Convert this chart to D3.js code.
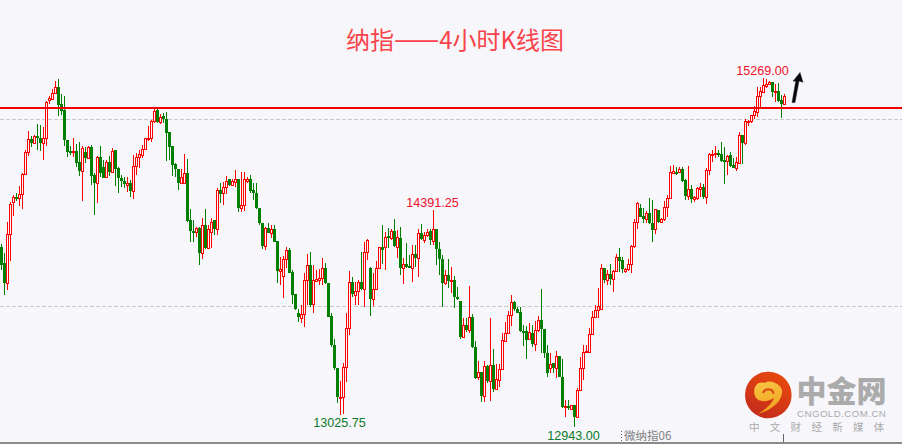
<!DOCTYPE html>
<html><head><meta charset="utf-8">
<style>html,body{margin:0;padding:0;background:#f6f6fb;overflow:hidden}svg{display:block}</style>
<script src="https://cdnjs.cloudflare.com/ajax/libs/d3/7.8.5/d3.min.js"></script>
</head><body><div id="c"></div>
<script>
const titleParts = ["纳指","——","4小时K线图"];
const contract = "微纳指06";
const opens = [14142,14036,13902,14229,14443,14476,14469,14496,14629,14776,14863,14836,14883,14869,14836,14869,15122,15129,15169,15209,15096,15056,14856,14783,14776,14783,14709,14649,14776,14736,14809,14623,14569,14743,14676,14609,14709,14643,14789,14669,14603,14583,14556,14569,14516,14683,14743,14756,14796,14863,14869,14983,15056,14976,15016,14996,14909,14816,14696,14663,14569,14569,14636,14323,14249,14242,14269,14102,14289,14136,14242,14323,14263,14523,14503,14543,14596,14556,14576,14596,14403,14423,14583,14596,14523,14503,14403,14303,14149,14269,14236,14263,14182,13982,13949,14062,14122,13976,13829,13702,13669,13696,13922,14022,13762,13916,13922,13936,14002,13902,13682,13489,13336,13136,13142,13342,13602,13909,13822,13849,13909,13862,14109,14002,13796,13862,14002,14142,14142,14216,14202,14249,14142,14202,14002,14029,14016,14002,14096,14069,14236,14189,14222,14249,14182,14263,14129,14062,13902,13956,13916,13922,13809,13782,13542,13622,13589,13676,13476,13276,13309,13149,13349,13249,13356,13196,13256,13329,13516,13569,13689,13776,13729,13709,13582,13582,13529,13569,13496,13589,13656,13596,13436,13336,13369,13336,13416,13276,13076,13082,13062,13089,13009,13189,13336,13442,13442,13562,13676,13722,13729,14002,13922,13962,13929,13982,14076,14056,13982,13996,14029,14149,14309,14403,14349,14329,14369,14303,14263,14389,14309,14329,14409,14469,14636,14643,14643,14663,14589,14483,14529,14463,14469,14529,14543,14476,14656,14756,14763,14769,14763,14723,14716,14756,14689,14669,14703,14889,14836,14976,14983,15022,15043,15149,15176,15216,15229,15242,15176,15182,15122,15096];
const highs = [14162,14102,14309,14443,14489,14503,14549,14636,14789,14916,14883,14889,14963,14956,14943,15116,15149,15196,15249,15262,15162,15149,14856,14816,14869,14829,14843,14816,14809,14816,14823,14636,14749,14816,14723,14723,14749,14803,14789,14676,14623,14609,14609,14589,14756,14769,14789,14823,14869,14949,14989,15069,15062,15029,15036,15043,14909,14816,14703,14663,14663,14763,14729,14396,14323,14276,14276,14336,14396,14289,14336,14323,14536,14569,14576,14616,14596,14596,14656,14596,14643,14643,14609,14623,14569,14569,14403,14303,14276,14303,14289,14289,14182,14076,14082,14142,14136,13989,13829,13729,13756,13969,14096,14109,14022,13989,13996,14069,14036,13902,13702,13529,13336,13249,13369,13702,13982,13942,13909,13922,14109,14176,14196,14009,13969,14049,14142,14289,14242,14269,14263,14329,14256,14276,14069,14169,14089,14156,14156,14263,14296,14242,14263,14263,14391.25,14263,14176,14089,13989,14062,14009,13949,13876,13782,13669,13669,13882,13696,13516,13382,13309,13382,13356,13669,13462,13362,13362,13569,13642,13716,13822,13782,13742,13742,13622,13616,13636,13622,13649,13682,13862,13596,13489,13436,13369,13449,13416,13396,13122,13122,13089,13089,13202,13409,13489,13489,13602,13716,13756,13869,14029,14002,13989,14029,13989,14096,14136,14076,14002,14062,14156,14329,14443,14429,14403,14383,14469,14456,14396,14389,14336,14449,14489,14683,14689,14676,14676,14676,14596,14683,14556,14483,14543,14569,14563,14669,14769,14789,14816,14789,14843,14809,14756,14776,14736,14743,14909,14889,14996,14989,15022,15083,15209,15209,15269,15262,15249,15242,15229,15236,15156,15162];
const lows = [13989,13822,13856,14049,14349,14449,14416,14396,14623,14749,14809,14829,14789,14783,14723,14816,15096,15122,15162,15016,15022,14816,14743,14756,14743,14676,14616,14449,14703,14736,14556,14356,14436,14609,14603,14603,14616,14636,14549,14503,14543,14536,14509,14476,14463,14623,14669,14736,14789,14849,14843,14969,14969,14963,14969,14716,14723,14616,14609,14523,14563,14563,14309,14176,14176,14209,14022,14062,14129,14136,14136,14222,14222,14436,14423,14496,14549,14556,14543,14376,14376,14383,14569,14503,14456,14396,14289,14129,14122,14236,14202,14176,13902,13889,13802,14002,13969,13762,13722,13642,13636,13609,13756,13742,13702,13909,13889,13889,13896,13676,13476,13322,13102,13025.75,13029,13242,13556,13809,13756,13756,13856,13742,14056,13682,13749,13856,13996,14029,13989,14136,14189,14142,14069,13956,13896,14002,14002,13909,14009,13942,14189,14169,14209,14156,14156,14022,13956,13742,13889,13869,13836,13736,13789,13529,13536,13576,13569,13469,13262,13256,13109,13109,13236,13116,13176,13189,13209,13322,13516,13562,13616,13716,13702,13576,13482,13396,13522,13476,13449,13576,13436,13402,13276,13302,13302,13269,13276,13069,13009,13056,13056,12943,13002,13182,13256,13436,13442,13556,13676,13669,13729,13902,13889,13889,13842,13976,13976,13969,13969,13982,13969,14136,14263,14343,14303,14303,14296,14176,14229,14303,14303,14316,14343,14463,14636,14623,14636,14576,14456,14456,14436,14443,14456,14476,14463,14429,14623,14709,14736,14743,14709,14563,14623,14676,14669,14649,14703,14696,14823,14949,14969,14996,15009,15076,15176,15203,15222,15143,15109,15109,15003,15089];
const closes = [14022,13902,14229,14429,14476,14463,14496,14629,14776,14863,14836,14883,14869,14836,14869,15109,15136,15169,15209,15089,15049,14856,14776,14776,14783,14703,14649,14803,14736,14809,14616,14569,14743,14636,14603,14709,14643,14783,14663,14603,14583,14563,14569,14516,14683,14743,14763,14796,14869,14869,14983,15049,14976,15009,14996,14903,14809,14689,14663,14569,14609,14636,14316,14249,14236,14269,14102,14289,14136,14263,14309,14263,14523,14496,14543,14583,14556,14583,14596,14403,14423,14596,14596,14516,14503,14403,14303,14149,14269,14236,14263,14176,13982,13996,14062,14122,13969,13822,13729,13676,13696,13922,14022,13756,13922,13929,13936,14002,13902,13676,13489,13336,13142,13142,13342,13602,13909,13829,13849,13909,13862,14109,14189,13796,13862,14002,14142,14122,14209,14202,14249,14149,14209,14002,14029,14009,14002,14096,14069,14236,14196,14222,14242,14189,14263,14129,14062,13902,13956,13916,13922,13809,13802,13542,13622,13589,13676,13476,13269,13309,13149,13349,13249,13356,13196,13262,13329,13522,13569,13689,13776,13729,13702,13582,13576,13522,13576,13496,13589,13656,13596,13436,13302,13362,13336,13416,13276,13076,13082,13076,13089,13009,13189,13336,13442,13449,13562,13676,13722,13749,14002,13922,13962,13929,13982,14076,14049,13996,13996,14029,14149,14309,14436,14343,14329,14369,14303,14256,14396,14309,14329,14409,14469,14643,14649,14636,14663,14583,14483,14529,14463,14476,14536,14543,14476,14656,14763,14763,14769,14763,14716,14716,14749,14683,14669,14709,14889,14836,14983,14983,15022,15049,15149,15182,15222,15229,15242,15176,15182,15116,15096,15149];
const redLevel = [15076];
const dashedLevels = [14993, 13748];
const priceNotes = [
  {text:"15269.00", index:254, price:15269, up:true},
  {text:"14391.25", index:144, price:14391.25, up:true},
  {text:"13025.75", index:113, price:13025.75, up:false},
  {text:"12943.00", index:191, price:12943, up:false}
];
const W=902,H=444,BG="#f6f6fb",RED="#ff0000",GRN="#007f00";
const candles = d3.range(opens.length).map(i=>({i,o:opens[i],h:highs[i],l:lows[i],c:closes[i]}));
const x=d3.scaleLinear().domain([0,261]).range([1,784]);
const y=d3.scaleLinear().domain([12943,15269]).range([427,78]);
const svg=d3.select("#c").append("svg").attr("width",W).attr("height",H).attr("viewBox",`0 0 ${W} ${H}`);
svg.append("rect").attr("width",W).attr("height",H).attr("fill",BG);
// dashed grid levels
svg.selectAll("line.dash").data(dashedLevels).join("line").attr("class","dash")
  .attr("x1",0).attr("x2",W).attr("y1",d=>Math.round(y(d))+.5).attr("y2",d=>Math.round(y(d))+.5)
  .attr("stroke","#c8c8c8").attr("stroke-dasharray","4 2");
// wicks
const gC=svg.append("g").attr("shape-rendering","crispEdges");
const isUp=d=>d.c>=d.o;
gC.selectAll("rect.w").data(candles).join("rect").attr("class","w")
  .attr("x",d=>Math.round(x(d.i))).attr("width",1)
  .attr("y",d=>Math.round(y(d.h))).attr("height",d=>Math.max(1,Math.round(y(d.l))-Math.round(y(d.h))))
  .attr("fill",d=>isUp(d)?RED:GRN);
// bodies
gC.selectAll("rect.b").data(candles).join("rect").attr("class","b")
  .attr("x",d=>Math.round(x(d.i))-1+(isUp(d)?.5:0))
  .attr("width",d=>isUp(d)?2:3)
  .attr("y",d=>Math.round(y(Math.max(d.o,d.c)))+(isUp(d)?.5:0))
  .attr("height",d=>Math.max(isUp(d)?1:2,Math.round(y(Math.min(d.o,d.c)))-Math.round(y(Math.max(d.o,d.c)))))
  .attr("fill",d=>isUp(d)?BG:GRN)
  .attr("stroke",d=>isUp(d)?RED:"none");
// red level
svg.selectAll("rect.lvl").data(redLevel).join("rect").attr("class","lvl")
  .attr("x",0).attr("width",W).attr("y",d=>Math.round(y(d))).attr("height",2).attr("fill","#f40000");
// price notes
svg.selectAll("text.note").data(priceNotes).join("text").attr("class","note")
  .attr("x",d=>x(d.index)-.5).attr("y",d=>y(d.price)+(d.up?-3:12.7))
  .attr("text-anchor","middle").attr("font-family","Liberation Sans").attr("font-size",12.6)
  .attr("fill",d=>d.up?"#f0102a":"#0a7a2a").text(d=>d.text);
// title
const tt=svg.append("text").attr("x",346).attr("y",49)
  .attr("font-family","Noto Sans CJK SC").attr("font-size",24).attr("fill","#f8444a");
tt.selectAll("tspan").data(titleParts).join("tspan")
  .attr("font-size",(d,i)=>i===1?27:24).text(d=>d);
// hand-drawn arrow
svg.append("path").attr("d","M792 102.5 L795.8 81 L793 81.2 L800 72.5 L803 82.2 L799 81 L795 102.5 Z").attr("fill","#0a0a0a").attr("stroke","#0a0a0a").attr("stroke-width",.4);
// bottom axis
svg.append("rect").attr("x",0).attr("y",442).attr("width",W).attr("height",2).attr("fill","#8a8a8a");
svg.append("rect").attr("x",783).attr("y",434).attr("width",1).attr("height",8).attr("fill","#666");
svg.append("line").attr("x1",621.5).attr("x2",621.5).attr("y1",431).attr("y2",442).attr("stroke","#666").attr("stroke-dasharray","1 2");
svg.append("text").attr("x",624).attr("y",440).attr("font-family","Noto Sans CJK SC").attr("font-size",11.5).attr("fill","#808080").text(contract);
// watermark
const defs=svg.append("defs");
const lg=defs.append("linearGradient").attr("id","lg").attr("x1","0.75").attr("y1","0").attr("x2","0.2").attr("y2","1");
lg.append("stop").attr("offset","0").attr("stop-color","#ea4a0e");
lg.append("stop").attr("offset","1").attr("stop-color","#c22a1c");
const lg2=defs.append("linearGradient").attr("id","lg2").attr("x1","0").attr("y1","0").attr("x2","0.2").attr("y2","1");
lg2.append("stop").attr("offset","0").attr("stop-color","#f8c648");
lg2.append("stop").attr("offset","1").attr("stop-color","#f2a21c");
svg.append("circle").attr("cx",768.3).attr("cy",395).attr("r",23.3).attr("fill","url(#lg)");
svg.append("path").attr("d","M755 396 C752 387 758 381 764 383 C770 379 780 383 782 390 C783 400 774 409 758 414 C766 409 772 404 774 398 C768 402 758 403 755 396 Z").attr("fill","url(#lg2)");
svg.append("path").attr("d","M763 393 C765 388 773 388 773.5 394").attr("fill","none").attr("stroke","#d8501a").attr("stroke-width",2.2);
svg.append("text").attr("x",841.5).attr("y",402).attr("text-anchor","middle").attr("font-family","'Liberation Sans','Noto Sans CJK SC'").attr("font-weight",900).attr("font-size",30).attr("fill","#ababab").text("中金网");
svg.append("text").attr("x",797).attr("y",417).attr("font-family","Liberation Sans").attr("font-size",9.7).attr("letter-spacing",".45").attr("fill","#ababab").text("CNGOLD.COM.CN");
svg.append("text").attr("x",749).attr("y",431).attr("font-family","Noto Sans CJK SC").attr("font-size",10.5).attr("letter-spacing","10.3").attr("fill","#ababab").text("中文财经新媒体");
</script></body></html>
